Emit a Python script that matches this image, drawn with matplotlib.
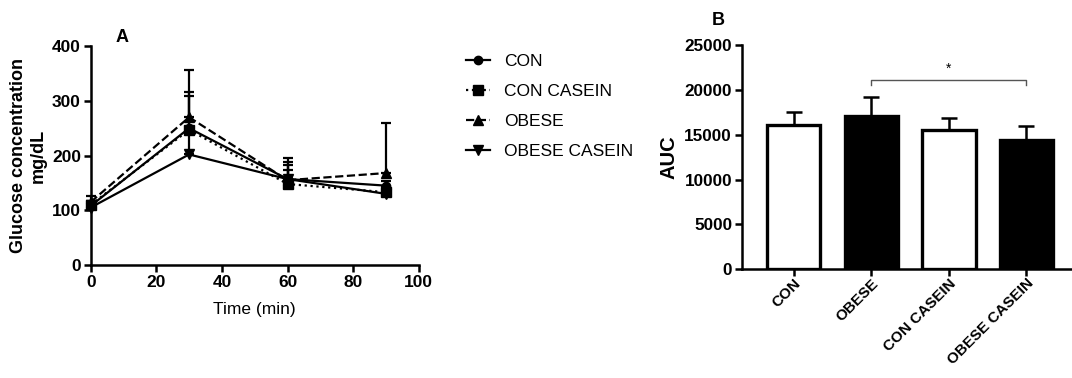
import numpy as np
import matplotlib.pyplot as plt
from matplotlib.lines import Line2D

plt.rcParams['font.family'] = ['Liberation Sans', 'DejaVu Sans']

# Painel A - curva glicêmica
time = [0, 30, 60, 90]
con = [108, 250, 157, 145]
con_casein = [110, 247, 148, 133]
obese = [115, 270, 155, 168]
obese_casein = [105, 202, 157, 130]

con_sd = [9, 66, 38, 8]
con_casein_sd = [6, 62, 41, 10]
obese_sd = [11, 86, 28, 91]
obese_casein_sd = [12, 40, 17, 6]

series_names = ['CON', 'CON CASEIN', 'OBESE', 'OBESE CASEIN']

# Painel B - AUC
groups = ['CON', 'OBESE', 'CON CASEIN', 'OBESE CASEIN']
auc = [16080, 17120, 15560, 14410]
auc_sd = [1420, 2050, 1270, 1560]

fig = plt.figure(figsize=(10.72, 3.78), dpi=100)

axA = fig.add_axes([0.0846, 0.299, 0.306, 0.579])
styles = [('-', 'o', 6), (':', 's', 7), ('--', '^', 7), ('-', 'v', 7)]
data = [con, con_casein, obese, obese_casein]
sds = [con_sd, con_casein_sd, obese_sd, obese_casein_sd]
handles = []
for y, sd, (ls, mk, ms), name in zip(data, sds, styles, series_names):
    axA.errorbar(time, y, yerr=[np.zeros(len(sd)), sd], color='black',
                 ls=ls, lw=1.6, marker=mk, ms=ms, capsize=3.5, capthick=1.6,
                 elinewidth=1.6, clip_on=False)
    handles.append(Line2D([], [], color='black', ls=ls, lw=1.6, marker=mk,
                          ms=ms, label=name))

axA.set_xlim(0, 100)
axA.set_ylim(0, 400)
axA.set_xticks([0, 20, 40, 60, 80, 100])
axA.set_yticks([0, 100, 200, 300, 400])
axA.spines['top'].set_visible(False)
axA.spines['right'].set_visible(False)
for s in ['left', 'bottom']:
    axA.spines[s].set_linewidth(1.8)
axA.tick_params(width=1.8, length=5, labelsize=12.5, pad=2)
for lab in axA.get_xticklabels() + axA.get_yticklabels():
    lab.set_fontweight('bold')
axA.set_xlabel('Time (min)', fontsize=12.5, labelpad=9)
axA.set_ylabel('Glucose concentration\nmg/dL', fontsize=13,
               fontweight='bold', labelpad=4)
fig.text(0.108, 0.89, 'A', fontsize=13, fontweight='bold')

fig.legend(handles=handles, loc='upper left', bbox_to_anchor=(0.428, 0.875),
           frameon=False, fontsize=12.5, handlelength=1.4, labelspacing=0.85,
           handletextpad=0.8, borderaxespad=0)

# Painel B
axB = fig.add_axes([0.692, 0.2876, 0.308, 0.593])
x = np.arange(len(groups))
colors = ['white', 'black', 'white', 'black']
axB.bar(x, auc, width=0.69, color=colors, edgecolor='black', linewidth=2.4)
axB.errorbar(x, auc, yerr=[np.zeros(len(auc_sd)), auc_sd], fmt='none',
             ecolor='black', elinewidth=1.8, capsize=6, capthick=1.8)
axB.set_xlim(-0.67, 3.59)
axB.set_ylim(0, 25000)
axB.set_yticks([0, 5000, 10000, 15000, 20000, 25000])
axB.set_xticks(x)
axB.set_xticklabels(groups, rotation=45, ha='right', rotation_mode='anchor',
                    fontweight='bold', fontsize=11)
for lab in axB.get_yticklabels():
    lab.set_fontweight('bold')
axB.spines['top'].set_visible(False)
axB.spines['right'].set_visible(False)
for s in ['left', 'bottom']:
    axB.spines[s].set_linewidth(1.8)
axB.tick_params(axis='y', width=1.8, length=5, labelsize=12.3, pad=2)
axB.tick_params(axis='x', width=1.8, length=5, pad=0)
axB.set_ylabel('AUC', fontsize=14.5, fontweight='bold', labelpad=4)

# barra de significância
yb = 21100
axB.plot([1, 1, 3, 3], [yb - 500, yb, yb, yb - 500], color='#555555', lw=1.0)
axB.text(2, yb + 500, '*', ha='center', va='bottom', fontsize=10)
fig.text(0.664, 0.935, 'B', fontsize=13, fontweight='bold')

fig.savefig('out.png', dpi=100)
